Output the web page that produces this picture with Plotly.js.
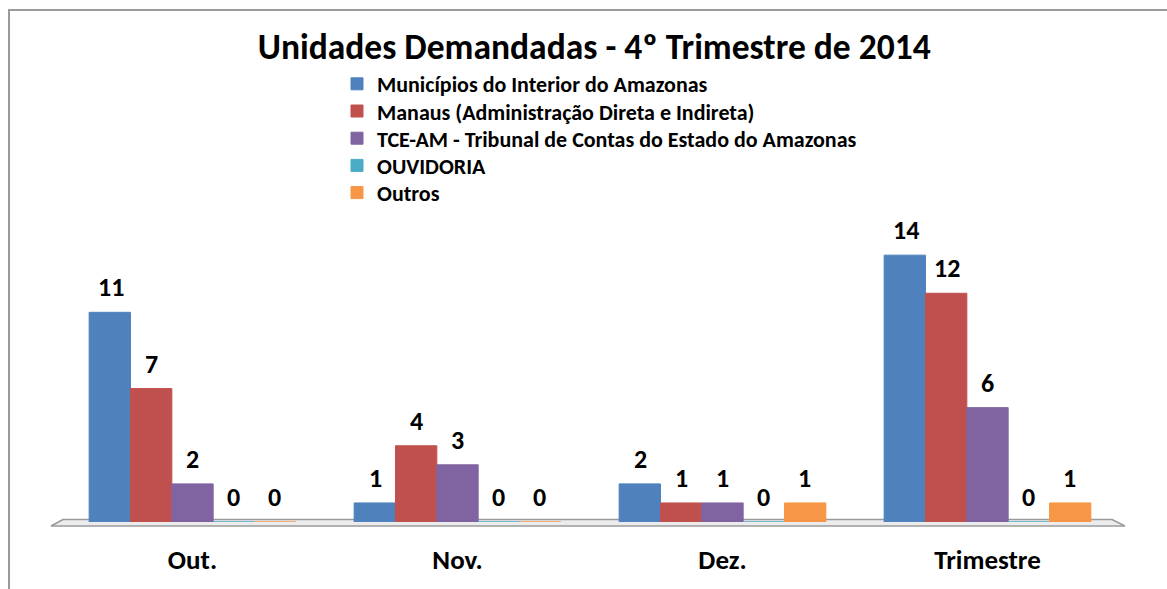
<!DOCTYPE html>
<html>
<head>
<meta charset="utf-8">
<script src="https://cdn.plot.ly/plotly-3.0.1.min.js"></script>
<style>html,body{margin:0;padding:0;background:#fff;}#chart{width:1167px;height:589px;}</style>
</head>
<body>
<div id="chart"></div>
<script>
const categories = ["Out.", "Nov.", "Dez.", "Trimestre"];
const seriesNames = [
  "Municípios do Interior do Amazonas",
  "Manaus (Administração Direta e Indireta)",
  "TCE-AM - Tribunal de Contas do Estado do Amazonas",
  "OUVIDORIA",
  "Outros"
];
const municipios = [11, 1, 2, 14];
const manaus = [7, 4, 1, 12];
const tceam = [2, 3, 1, 6];
const ouvidoria = [0, 0, 0, 0];
const outros = [0, 0, 1, 1];
const seriesValues = [municipios, manaus, tceam, ouvidoria, outros];
const colors = ["#4F81BD", "#C0504D", "#8064A2", "#4BACC6", "#F79646"];

const FONT = "Carlito, 'Liberation Sans', Arial, sans-serif";
const W = 1167, H = 589;
const mL = 60, mR = 47, mT = 217, mB = 67;
const plotW = W - mL - mR, plotH = H - mT - mB;
const px = x => (x - mL) / plotW;
const py = y => (H - mB - y) / plotH;

const legendIds = ["legend", "legend2", "legend3", "legend4", "legend5"];

const traces = seriesValues.map((vals, i) => ({
  type: "bar",
  name: seriesNames[i],
  x: categories,
  y: vals,
  legend: legendIds[i],
  marker: {color: colors[i], line: {color: colors[i], width: 1}},
  hoverinfo: "x+y+name"
}));

const barPx = 41;
const annotations = [];
seriesValues.forEach((vals, i) => {
  vals.forEach((v, j) => {
    annotations.push({
      x: categories[j], y: v, xref: "x", yref: "y",
      text: "<b>" + v + "</b>", showarrow: false,
      xshift: (i - 2) * barPx, yshift: 25,
      yanchor: "middle",
      font: {family: FONT, size: 26, color: "#000"}
    });
  });
});

const floorPath = `M ${px(51)} ${py(526)} L ${px(63)} ${py(519.5)} L ${px(1112)} ${py(519.5)} L ${px(1125)} ${py(526)} Z`;
const framePath = `M ${px(9)} ${py(600)} L ${px(9)} ${py(10)} L ${px(1180)} ${py(10)}`;

const layout = {
  width: W, height: H,
  margin: {l: mL, r: mR, t: mT, b: mB, pad: 0},
  paper_bgcolor: "#fff", plot_bgcolor: "rgba(0,0,0,0)",
  font: {family: FONT, color: "#000"},
  title: {
    text: "<b>Unidades Demandadas - 4º Trimestre de 2014</b>",
    font: {family: FONT, size: 35.5, color: "#000"},
    x: 0.504, xref: "paper", xanchor: "center",
    y: 1 - 47 / H, yref: "container", yanchor: "middle"
  },
  barmode: "group",
  bargap: 0.22,
  bargroupgap: 0,
  showlegend: true,
  xaxis: {
    type: "category",
    showgrid: false, zeroline: false, showline: false,
    ticks: "outside", ticklen: 14, tickcolor: "rgba(0,0,0,0)",
    tickfont: {family: FONT, size: 27, color: "#000", weight: "bold"},
    fixedrange: true
  },
  yaxis: {
    range: [0, 16],
    visible: false, showgrid: false, zeroline: false,
    fixedrange: true
  },
  annotations: annotations,
  shapes: [
    {type: "path", xref: "paper", yref: "paper", path: floorPath,
     fillcolor: "#ececec", line: {color: "#9a9a9a", width: 1.5}, layer: "below"},
    {type: "path", xref: "paper", yref: "paper", path: framePath,
     line: {color: "#9a9a9a", width: 2}, layer: "above"}
  ]
};

legendIds.forEach((id, i) => {
  layout[id] = {
    x: px(337), y: py(84 + i * 27.2), xanchor: "left", yanchor: "middle",
    xref: "paper", yref: "paper",
    bgcolor: "rgba(0,0,0,0)",
    font: {family: FONT, size: 22, color: "#000", weight: "bold"},
    itemwidth: 30,
    itemclick: false
  };
});

Plotly.newPlot("chart", traces, layout, {displayModeBar: false, staticPlot: true});
</script>
</body>
</html>
